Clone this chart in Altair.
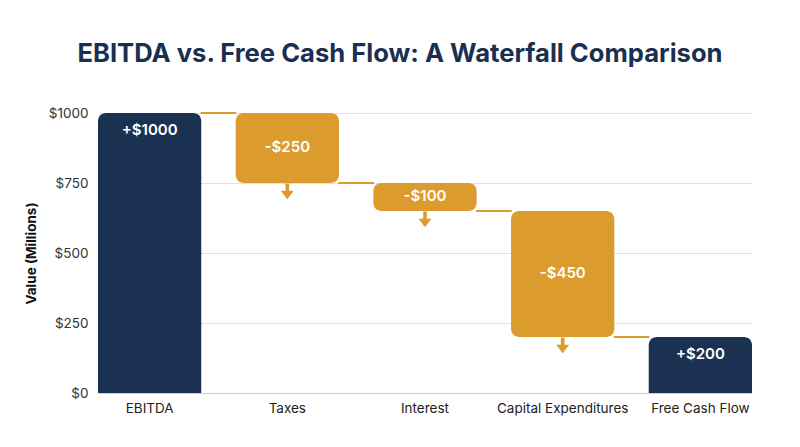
import altair as alt
import pandas as pd

categories = ["EBITDA", "Taxes", "Interest", "Capital Expenditures", "Free Cash Flow"]
changes = [1000, -250, -100, -450, 200]
kinds = ["total", "delta", "delta", "delta", "total"]
labels = ["+$1000", "-$250", "-$100", "-$450", "+$200"]
starts = [0, 1000, 750, 650, 0]
ends = [1000, 750, 650, 200, 200]

NAVY = "#1b3152"
ORANGE = "#dc9b2d"
FONT = "Inter"

df = pd.DataFrame({
    "cat": categories, "change": changes, "kind": kinds, "label": labels,
    "start": starts, "end": ends,
})
df["mid"] = (df["start"] + df["end"]) / 2
df["top"] = df[["start", "end"]].max(axis=1)

conn = pd.DataFrame({
    "from": categories[:-1],
    "to": categories[1:],
    "level": ends[:-1],
})

xscale = alt.Scale(domain=categories, paddingInner=0.25, paddingOuter=0)
yscale = alt.Scale(domain=[0, 1000], nice=False)

x_axis = alt.Axis(labelAngle=0, labelAlign="center", ticks=False, labelPadding=8,
                  labelFontSize=13.5, labelColor="#222222", labelFont=FONT,
                  domainColor="#cccccc", grid=False, labelOverlap=False)
x = alt.X("cat:N", scale=xscale, sort=categories, title=None, axis=x_axis)
y_axis = alt.Axis(values=[0, 250, 500, 750, 1000], labelExpr="'$' + datum.value",
                  ticks=False, domain=False, labelPadding=10, labelFontSize=13.5,
                  labelColor="#333333", labelFont=FONT, gridColor="#e2e2e2",
                  title="Value (Millions)", titleFont=FONT, titleFontSize=13.5,
                  titleFontWeight="bold", titleColor="#111111", titlePadding=10)

base = alt.Chart(df)

connectors = alt.Chart(conn).mark_rule(color=ORANGE, strokeWidth=2,
                                       xOffset=51, x2Offset=-51).encode(
    x=alt.X("from:N", scale=xscale, sort=categories, title=None, axis=x_axis),
    x2="to:N",
    y=alt.Y("level:Q", scale=yscale, axis=y_axis),
)

bars_total = base.transform_filter("datum.kind == 'total'").mark_bar(
    color=NAVY, cornerRadiusTopLeft=8, cornerRadiusTopRight=8).encode(
    x=x, y=alt.Y("start:Q", scale=yscale, axis=y_axis), y2="end:Q")

bars_delta = base.transform_filter("datum.kind == 'delta'").mark_bar(
    color=ORANGE, cornerRadius=8).encode(
    x=x, y=alt.Y("start:Q", scale=yscale, axis=y_axis), y2="end:Q")

arrow_path = "M-0.28,-1.25 L0.28,-1.25 L0.28,-0.1 L1,-0.1 L0,1.2 L-1,-0.1 L-0.28,-0.1 Z"
arrows = base.transform_filter("datum.kind == 'delta'").mark_point(
    shape=arrow_path, filled=True, color=ORANGE, opacity=1, size=169, yOffset=8.5).encode(
    x=x, y=alt.Y("end:Q", scale=yscale, axis=y_axis))

text_total = base.transform_filter("datum.kind == 'total'").mark_text(
    color="white", font=FONT, fontSize=15, fontWeight=600, baseline="middle", dy=17).encode(
    x=x, y=alt.Y("top:Q", scale=yscale, axis=y_axis), text="label:N")

text_delta = base.transform_filter("datum.kind == 'delta'").mark_text(
    color="white", font=FONT, fontSize=15, fontWeight=600, baseline="middle", dy=-1).encode(
    x=x, y=alt.Y("mid:Q", scale=yscale, axis=y_axis), text="label:N")

chart = alt.layer(connectors, bars_total, bars_delta, arrows, text_total, text_delta).properties(
    width=654, height=280,
    background="white",
    title=alt.TitleParams("EBITDA vs. Free Cash Flow: A Waterfall Comparison",
                          font=FONT, fontSize=25.6, fontWeight="bold", color="#1b2f50",
                          anchor="middle", offset=38, dx=-25),
    autosize=alt.AutoSizeParams(type="none"),
    padding={"left": 90, "top": 105, "right": 40, "bottom": 46},
).configure_view(stroke=None)

chart.save("out.html", embed_options={"renderer": "svg", "actions": False})
